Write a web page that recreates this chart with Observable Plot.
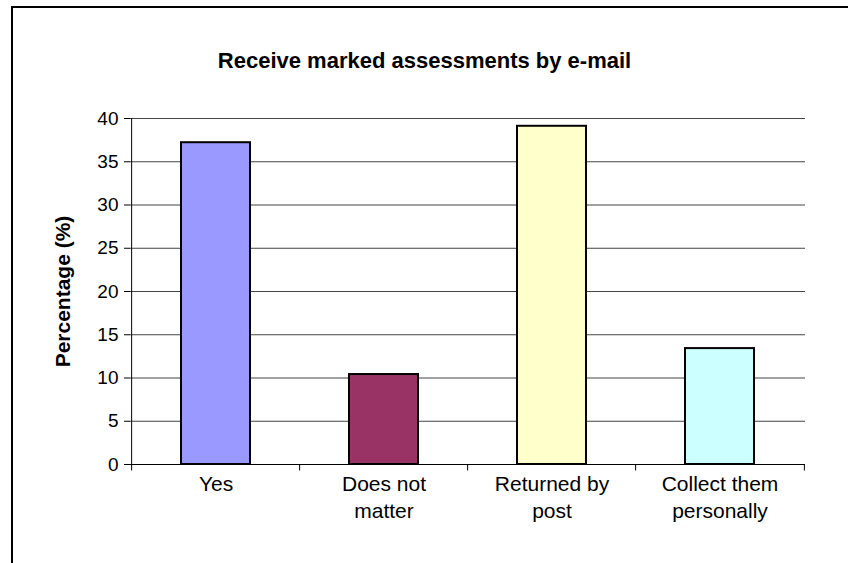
<!DOCTYPE html>
<html>
<head>
<meta charset="utf-8">
<script src="https://cdn.jsdelivr.net/npm/d3@7"></script>
<script src="https://cdn.jsdelivr.net/npm/@observablehq/plot@0.6"></script>
<style>
  html, body { margin: 0; padding: 0; background: #fff; }
  #wrap { position: relative; width: 848px; height: 563px; overflow: hidden; }
  #border { position: absolute; left: 11px; top: 6px; width: 900px; height: 700px; border: 2px solid #000; box-sizing: border-box; pointer-events: none; }
  svg { display: block; font-family: Arial, "Liberation Sans", sans-serif; }
</style>
</head>
<body>
<div id="wrap"><div id="border"></div></div>
<script>
const title = "Receive marked assessments by e-mail";
const yLabel = "Percentage (%)";
const categories = ["Yes", "Does not matter", "Returned by post", "Collect them personally"];
const labelLines = ["Yes", "Does not\nmatter", "Returned by\npost", "Collect them\npersonally"];
const values = [37.2, 10.4, 39.1, 13.4];
const colors = ["#9999FF", "#993366", "#FFFFCC", "#CCFFFF"];
const yTicks = [0, 5, 10, 15, 20, 25, 30, 35, 40];

const data = categories.map((c, i) => ({category: c, value: values[i], color: colors[i]}));
const labelOf = new Map(categories.map((c, i) => [c, labelLines[i]]));

const W = 848, H = 563;
const mL = 130, mR = 43, mT = 118, mB = 99;
const step = (W - mL - mR) / categories.length;
const titleShift = W / 2 - (mL + (W - mL - mR) / 2);

const chart = Plot.plot({
  width: W,
  height: H,
  marginLeft: mL,
  marginRight: mR,
  marginTop: mT,
  marginBottom: mB,
  style: {fontFamily: "Arial, 'Liberation Sans', sans-serif", background: "transparent", overflow: "visible"},
  x: {domain: categories, paddingInner: 0.59, paddingOuter: 0.295},
  y: {domain: [0, 40]},
  marks: [
    Plot.gridY(yTicks, {stroke: "#444", strokeOpacity: 1, strokeWidth: 1}),
    Plot.barY(data, {x: "category", y: "value", fill: "color", stroke: "#000", strokeWidth: 2}),
    Plot.ruleY([0], {stroke: "#000", strokeWidth: 1}),
    Plot.axisY(yTicks, {tickSize: 6, tickPadding: 6, fontSize: 19, label: null, stroke: "#000", fill: "#000"}),
    Plot.ruleX(categories.slice(0, 1), {x: d => d, y1: 0, y2: 40, dx: -step / 2, stroke: "#000"}),
    Plot.axisX({tickSize: 0, tickPadding: 7, fontSize: 21, lineHeight: 1.29, label: null, tickFormat: d => labelOf.get(d), fill: "#000"}),
    Plot.ruleX(categories, {x: d => d, y1: 0, y2: -0.75, dx: -step / 2, stroke: "#000"}),
    Plot.ruleX(categories.slice(-1), {x: d => d, y1: 0, y2: -0.75, dx: step / 2, stroke: "#000"}),
    Plot.text([title], {frameAnchor: "top", lineAnchor: "middle", dy: -58, dx: titleShift, text: d => d, fontSize: 22, fontWeight: "bold", fill: "#000"}),
    Plot.text([yLabel], {frameAnchor: "left", textAnchor: "middle", lineAnchor: "middle", dx: -67, rotate: -90, text: d => d, fontSize: 21, fontWeight: "bold", fill: "#000"})
  ]
});
document.getElementById("wrap").prepend(chart);
</script>
</body>
</html>
